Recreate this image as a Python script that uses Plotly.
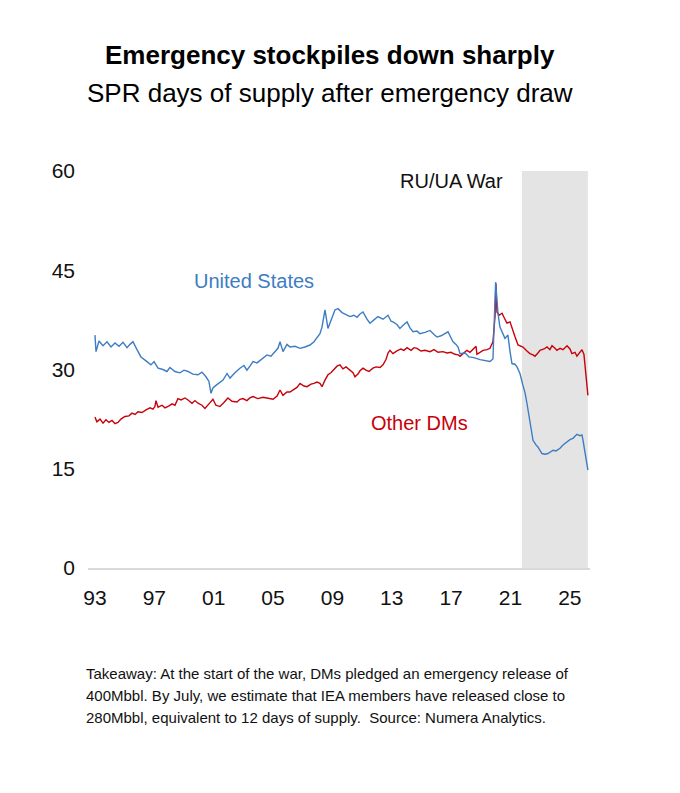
import plotly.graph_objects as go

# Days of supply (decimal years)
us_years = [
    1993.00, 1993.07, 1993.27, 1993.54, 1993.81, 1994.08, 1994.35, 1994.62, 1994.89, 1995.16,
    1995.36, 1995.56, 1995.83, 1996.10, 1996.44, 1996.77, 1996.98, 1997.25, 1997.58, 1997.85,
    1998.05, 1998.39, 1998.73, 1999.00, 1999.27, 1999.60, 1999.94, 2000.21, 2000.48, 2000.68,
    2000.82, 2000.95, 2001.15, 2001.42, 2001.63, 2001.90, 2002.10, 2002.43, 2002.77, 2003.04,
    2003.24, 2003.44, 2003.65, 2003.92, 2004.12, 2004.39, 2004.59, 2004.86, 2005.13, 2005.33,
    2005.47, 2005.67, 2005.94, 2006.14, 2006.48, 2006.82, 2007.15, 2007.49, 2007.76, 2007.96,
    2008.16, 2008.30, 2008.50, 2008.70, 2008.90, 2009.17, 2009.38, 2009.65, 2009.92, 2010.18,
    2010.45, 2010.66, 2010.86, 2011.06, 2011.33, 2011.53, 2011.80, 2012.07, 2012.41, 2012.75,
    2012.95, 2013.08, 2013.35, 2013.55, 2013.82, 2014.03, 2014.23, 2014.43, 2014.70, 2014.90,
    2015.24, 2015.58, 2015.85, 2016.05, 2016.32, 2016.59, 2016.79, 2016.99, 2017.13, 2017.33,
    2017.47, 2017.60, 2017.94, 2018.21, 2018.54, 2018.95, 2019.28, 2019.62, 2019.82, 2020.00,
    2020.09, 2020.16, 2020.29, 2020.49, 2020.63, 2020.83, 2020.90, 2020.97, 2021.10, 2021.30,
    2021.44, 2021.64, 2021.84, 2021.98, 2022.11, 2022.31, 2022.52, 2022.72, 2022.85, 2023.12,
    2023.33, 2023.53, 2023.87, 2024.07, 2024.34, 2024.54, 2024.81, 2025.01, 2025.21, 2025.48,
    2025.68, 2025.82, 2025.89, 2026.09, 2026.22,
]
us_days = [
    35.2, 32.7, 34.3, 33.6, 34.2, 33.4, 34.0, 33.5, 34.1, 33.3,
    33.8, 34.2, 33.0, 31.9, 31.3, 30.7, 31.2, 30.2, 30.0, 29.7,
    30.3, 29.7, 29.5, 29.9, 29.7, 29.3, 29.2, 29.6, 28.9, 28.2,
    26.4, 27.2, 27.6, 28.0, 28.4, 29.4, 28.7, 29.5, 30.2, 30.6,
    29.9, 30.5, 31.2, 31.0, 31.4, 31.8, 32.2, 32.0, 32.7, 33.2,
    34.2, 32.7, 33.8, 33.4, 33.5, 33.2, 33.4, 33.7, 34.2, 34.9,
    35.4, 36.4, 39.0, 36.2, 37.3, 39.0, 39.2, 38.6, 38.3, 38.0,
    38.2, 37.9, 38.4, 38.7, 37.6, 37.0, 37.5, 38.0, 37.6, 38.2,
    37.3, 37.2, 36.8, 36.2, 36.8, 37.2, 36.3, 35.7, 35.8, 35.4,
    35.6, 35.9, 35.3, 34.9, 35.1, 35.5, 35.7, 34.8, 34.2, 33.8,
    33.4, 32.4, 32.5, 31.9, 31.8, 31.5, 31.4, 31.2, 31.6, 43.2,
    40.5, 38.5, 36.4, 35.3, 34.7, 35.2, 33.6, 32.7, 30.9, 30.8,
    30.4, 29.4, 27.6, 26.5, 24.9, 21.9, 19.3, 18.6, 18.3, 17.3,
    17.2, 17.3, 17.8, 17.7, 18.1, 18.6, 19.1, 19.4, 19.6, 20.2,
    20.0, 20.1, 19.3, 16.5, 14.8,
]

dm_years = [
    1993.00, 1993.13, 1993.34, 1993.54, 1993.74, 1993.94, 1994.15, 1994.35, 1994.55, 1994.75,
    1995.02, 1995.29, 1995.49, 1995.70, 1995.90, 1996.17, 1996.44, 1996.71, 1996.91, 1997.04,
    1997.11, 1997.25, 1997.52, 1997.72, 1997.99, 1998.19, 1998.39, 1998.59, 1998.80, 1999.07,
    1999.27, 1999.54, 1999.74, 1999.94, 2000.21, 2000.41, 2000.68, 2000.95, 2001.15, 2001.42,
    2001.69, 2001.96, 2002.23, 2002.57, 2002.77, 2002.97, 2003.24, 2003.44, 2003.65, 2003.98,
    2004.32, 2004.66, 2005.00, 2005.27, 2005.47, 2005.67, 2005.94, 2006.14, 2006.34, 2006.61,
    2006.82, 2007.08, 2007.29, 2007.56, 2007.76, 2007.96, 2008.16, 2008.30, 2008.50, 2008.70,
    2008.90, 2009.17, 2009.31, 2009.51, 2009.71, 2009.92, 2010.18, 2010.39, 2010.52, 2010.72,
    2010.86, 2011.06, 2011.26, 2011.47, 2011.73, 2011.94, 2012.21, 2012.41, 2012.61, 2012.75,
    2012.88, 2013.08, 2013.35, 2013.62, 2013.82, 2014.03, 2014.30, 2014.50, 2014.70, 2014.97,
    2015.24, 2015.58, 2015.85, 2016.12, 2016.45, 2016.72, 2016.99, 2017.26, 2017.47, 2017.60,
    2017.80, 2018.07, 2018.27, 2018.47, 2018.68, 2018.74, 2018.95, 2019.15, 2019.42, 2019.62,
    2019.82, 2019.96, 2020.02, 2020.09, 2020.23, 2020.43, 2020.63, 2020.76, 2020.97, 2021.17,
    2021.30, 2021.51, 2021.64, 2021.84, 2022.11, 2022.31, 2022.52, 2022.65, 2022.85, 2022.99,
    2023.26, 2023.46, 2023.66, 2023.80, 2024.00, 2024.13, 2024.34, 2024.54, 2024.81, 2025.01,
    2025.14, 2025.35, 2025.48, 2025.68, 2025.82, 2025.95, 2026.09, 2026.22,
]
dm_days = [
    22.8, 22.1, 22.5, 21.9, 22.4, 22.0, 22.3, 21.8, 22.0, 22.5,
    22.9, 23.0, 23.4, 23.2, 23.6, 23.5, 23.9, 24.2, 24.0, 24.4,
    25.3, 24.3, 24.6, 24.2, 24.5, 24.8, 24.6, 25.6, 25.4, 25.7,
    25.4, 24.9, 25.3, 24.9, 24.6, 24.1, 24.8, 25.5, 24.6, 24.4,
    25.0, 25.7, 25.2, 25.1, 25.5, 25.6, 25.3, 25.7, 25.9, 25.6,
    25.8, 25.7, 25.5, 26.0, 26.9, 26.1, 26.6, 26.6, 26.9, 27.3,
    27.9, 27.5, 27.4, 27.8, 27.9, 28.1, 27.9, 27.4, 28.4, 29.2,
    29.5, 30.2, 30.5, 30.7, 30.1, 30.4, 29.9, 29.5, 28.9, 29.3,
    29.8, 30.2, 29.9, 29.7, 30.2, 30.4, 30.3, 30.7, 31.5, 32.5,
    32.9, 32.4, 32.8, 33.1, 32.9, 33.3, 32.9, 33.3, 33.2, 32.8,
    32.9, 32.7, 33.0, 32.6, 32.7, 32.5, 32.6, 32.3, 32.2, 32.0,
    32.4, 32.9, 32.6, 33.0, 33.5, 32.3, 32.6, 32.9, 33.0, 33.2,
    34.2, 38.0, 43.0, 38.7, 38.2, 38.5, 37.6, 37.0, 37.2, 35.7,
    35.0, 33.7, 33.6, 33.4, 32.8, 32.4, 32.2, 32.0, 32.5, 32.9,
    33.1, 33.4, 33.0, 33.6, 33.2, 32.9, 33.2, 33.0, 33.6, 33.1,
    32.4, 32.6, 32.0, 32.5, 33.0, 32.3, 29.5, 26.1,
]

war_start, war_end = 2021.77, 2026.22

tick_years = [1993, 1997, 2001, 2005, 2009, 2013, 2017, 2021, 2025]
tick_labels = ["93", "97", "01", "05", "09", "13", "17", "21", "25"]

FONT = "Liberation Sans, Arial, sans-serif"
BLUE = "#3d7dc3"
RED = "#c8000a"

fig = go.Figure()

fig.add_shape(type="rect", xref="x", yref="y", x0=war_start, x1=war_end, y0=0, y1=60,
              fillcolor="#e4e4e4", line_width=0, layer="below")

fig.add_trace(go.Scatter(x=dm_years, y=dm_days, mode="lines", name="Other DMs",
                         line=dict(color=RED, width=1.4)))
fig.add_trace(go.Scatter(x=us_years, y=us_days, mode="lines", name="United States",
                         line=dict(color=BLUE, width=1.4)))

# series labels
fig.add_annotation(x=2003.7, y=43.4, text="United States", showarrow=False,
                   font=dict(family=FONT, size=20, color=BLUE))
fig.add_annotation(x=2014.9, y=21.9, text="Other DMs", showarrow=False,
                   font=dict(family=FONT, size=20, color=RED))
fig.add_annotation(x=2017.0, y=58.5, text="RU/UA War", showarrow=False,
                   font=dict(family=FONT, size=20, color="#111111"))

# title + subtitle
fig.add_annotation(xref="paper", yref="paper", x=0.482, y=1.292, yanchor="middle",
                   text="<b>Emergency stockpiles down sharply</b>",
                   showarrow=False, font=dict(family=FONT, size=26, color="#000000"))
fig.add_annotation(xref="paper", yref="paper", x=0.482, y=1.196, yanchor="middle",
                   text="SPR days of supply after emergency draw",
                   showarrow=False, font=dict(family=FONT, size=26, color="#000000"))

# footnote, one line at a time so the spacing matches
notes = [
    "Takeaway: At the start of the war, DMs pledged an emergency release of",
    "400Mbbl. By July, we estimate that IEA members have released close to",
    "280Mbbl, equivalent to 12 days of supply.  Source: Numera Analytics.",
]
for i, line in enumerate(notes):
    fig.add_annotation(xref="paper", yref="paper", x=-0.008, y=(568 - 673 - 22 * i) / 397,
                       xanchor="left", yanchor="middle", text=line, showarrow=False,
                       font=dict(family=FONT, size=15, color="#111111"))

fig.update_xaxes(range=[1992.53, 2026.36], tickvals=tick_years, ticktext=tick_labels,
                 showgrid=False, zeroline=False, showline=True, linecolor="#d9d9d9", linewidth=1.5,
                 ticks="", ticklabelstandoff=10,
                 tickfont=dict(family=FONT, size=21, color="#111111"))
fig.update_yaxes(range=[0, 60], tickvals=[0, 15, 30, 45, 60], showgrid=False, zeroline=False,
                 showline=False, ticks="", ticklabelstandoff=12,
                 tickfont=dict(family=FONT, size=21, color="#111111"))

# page body adds an 8px offset, so margins are 8px smaller on the left/top
fig.update_layout(width=680, height=793, margin=dict(l=80, r=98, t=163, b=233),
                  plot_bgcolor="white", paper_bgcolor="white", showlegend=False)

fig.write_html("out.html")
